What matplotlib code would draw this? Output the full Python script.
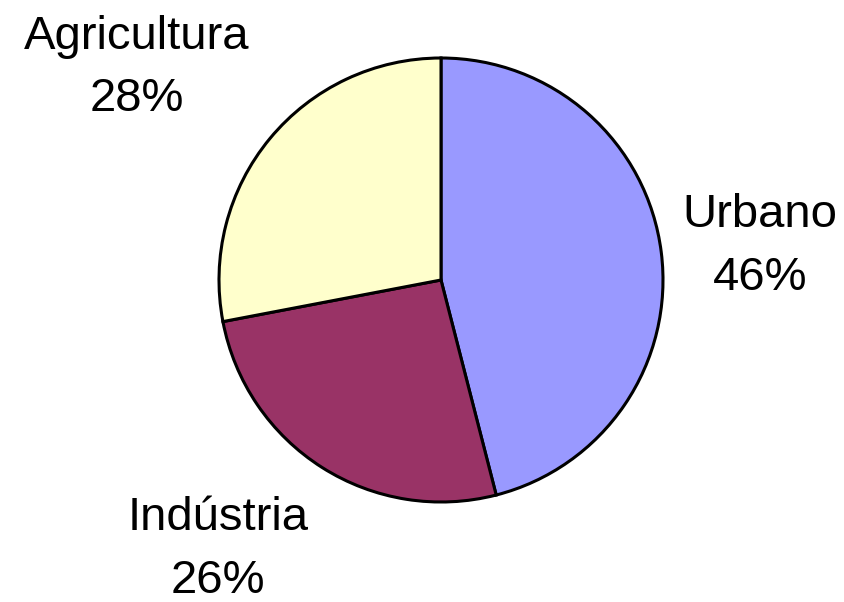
"""
Pie chart of water use by sector (Urbano / Indústria / Agricultura).
"""
import matplotlib
matplotlib.use('Agg')
import matplotlib.pyplot as plt

########  data  #########

SECTORS = ['Urbano', 'Indústria', 'Agricultura']
SHARES = [46, 26, 28]
COLORS = ['#9999FF', '#993366', '#FFFFCC']

# label placement (in pie radius units, centre = 0,0)
LABEL_POS = [(1.437, 0.15), (-1.005, -1.215), (-1.369, 0.955)]

FIG_W, FIG_H, DPI = 8.45, 6.02, 100

####################################

plt.rcParams['font.family'] = ['Liberation Sans', 'DejaVu Sans']

fig = plt.figure(figsize=(FIG_W, FIG_H), dpi=DPI)

# pie centre at (441, 280) px from top-left, radius 222 px
cx, cy, r = 441, 280, 222
W, H = FIG_W * DPI, FIG_H * DPI
ax = fig.add_axes([(cx - r) / W, (H - cy - r) / H, 2 * r / W, 2 * r / H])

ax.pie(SHARES, colors=COLORS, startangle=90, counterclock=False,
       radius=1, wedgeprops=dict(edgecolor='k', linewidth=2.2))
ax.set_xlim(-1, 1)
ax.set_ylim(-1, 1)
ax.set_aspect('equal')
ax.axis('off')

for name, share, (x, y) in zip(SECTORS, SHARES, LABEL_POS):
    ax.text(x, y, f'{name}\n{share}%', ha='center', va='center',
            fontsize=34, linespacing=1.55, clip_on=False)

plt.savefig('out.png', dpi=DPI)
plt.close()
